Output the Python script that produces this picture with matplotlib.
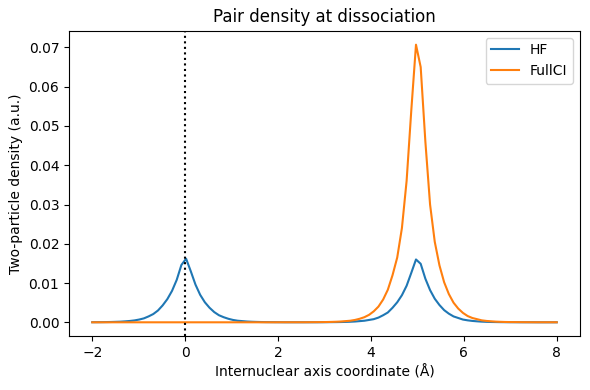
import numpy as np
import matplotlib.pyplot as plt

# grid along the internuclear axis (100 points from -2 to 8 Å)
x = np.linspace(-2, 8, 100)

hf = [
    0.00002, 0.00003, 0.00004, 0.00006, 0.00008, 0.00012, 0.00016, 0.00024, 0.00034, 0.00048,
    0.0007, 0.0010, 0.0015, 0.0021, 0.0030, 0.0043, 0.0059, 0.0080, 0.0108, 0.0146,
    0.0162, 0.0130, 0.0096, 0.0070, 0.0051, 0.0037, 0.0026, 0.0018, 0.0013, 0.0009,
    0.0006, 0.0004, 0.0003, 0.0002, 0.00014, 0.0001, 0.00007, 0.00005, 0.00004, 0.00003,
    0.00002, 0.00001, 0.00001, 0.00001, 0.00001, 0.00001, 0.00001, 0.00001, 0.00001, 0.00002,
    0.00003, 0.00004, 0.00005, 0.00007, 0.0001, 0.00014, 0.0002, 0.0003, 0.0004, 0.0006,
    0.0008, 0.0012, 0.0018, 0.0025, 0.0037, 0.0051, 0.0069, 0.0093, 0.0126, 0.0160,
    0.0149, 0.0111, 0.0082, 0.0060, 0.0044, 0.0031, 0.0022, 0.0015, 0.0011, 0.0007,
    0.0005, 0.00035, 0.00025, 0.00017, 0.00012, 0.00008, 0.00006, 0.00004, 0.00003, 0.00002,
    0.00002, 0.00001, 0.00001, 0.00001, 0.00001, 0.0, 0.0, 0.0, 0.0, 0.0,
]

fullci = [
    0.0, 0.0, 0.0, 0.0, 0.0, 0.0, 0.0, 0.0, 0.0, 0.0,
    0.0, 0.0, 0.0, 0.0, 0.0, 0.0, 0.0, 0.0, 0.0, 0.0,
    0.0, 0.0, 0.0, 0.0, 0.0, 0.0, 0.0, 0.0, 0.0, 0.0,
    0.0, 0.0, 0.0, 0.0, 0.0, 0.0, 0.0, 0.0, 0.0, 0.0,
    0.00001, 0.00001, 0.00001, 0.00001, 0.00001, 0.00001, 0.00002, 0.00003, 0.00004, 0.00005,
    0.00007, 0.0001, 0.00014, 0.0002, 0.0003, 0.0004, 0.0006, 0.0009, 0.0013, 0.0019,
    0.0028, 0.0040, 0.0058, 0.0083, 0.0120, 0.0165, 0.0240, 0.0360, 0.0540, 0.0707,
    0.0650, 0.0460, 0.0300, 0.0205, 0.0145, 0.0102, 0.0072, 0.0050, 0.0035, 0.0024,
    0.0016, 0.0011, 0.0008, 0.0005, 0.00035, 0.00025, 0.00017, 0.00012, 0.00008, 0.00006,
    0.00005, 0.00004, 0.00003, 0.00002, 0.00001, 0.00001, 0.00001, 0.00001, 0.00001, 0.00001,
]

fig, ax = plt.subplots(figsize=(5.9, 3.9), dpi=100)
ax.plot(x, hf, label="HF")
ax.plot(x, fullci, label="FullCI")
ax.axvline(0, color="k", linestyle=":")
ax.set_xlabel("Internuclear axis coordinate (Å)")
ax.set_ylabel("Two-particle density (a.u.)")
ax.set_title("Pair density at dissociation")
ax.legend(loc="upper right")
fig.subplots_adjust(left=0.117, right=0.983, top=0.921, bottom=0.138)
fig.savefig("out.png")
